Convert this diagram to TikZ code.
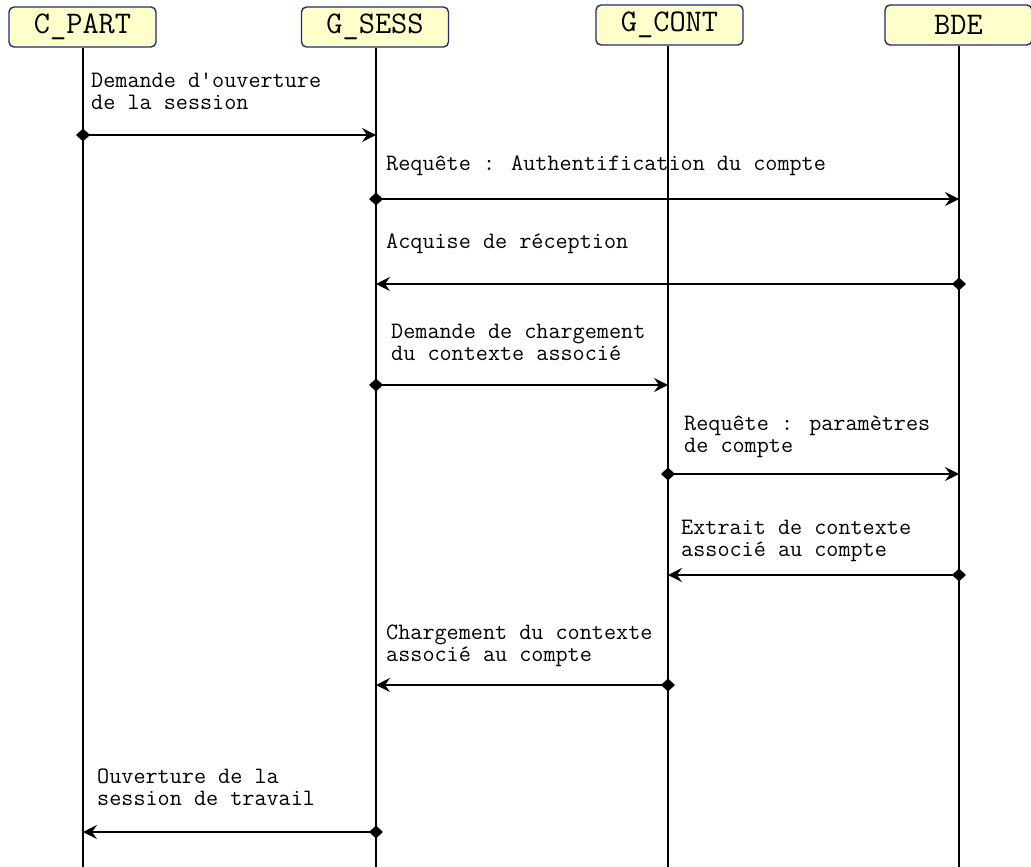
\documentclass[tikz,border=0pt]{standalone}
\usetikzlibrary{arrows.meta}
\definecolor{hdrfill}{HTML}{FFFFCC}
\definecolor{hdrdraw}{HTML}{1F2A80}
\begin{document}
\begin{tikzpicture}[x=1pt,y=-1pt,
  actor/.style={draw=hdrdraw,fill=hdrfill,line width=1.4pt,rounded corners=5pt,
    minimum width=147pt,minimum height=40pt,inner sep=0pt,
    font=\ttfamily\fontsize{31.5}{33}\selectfont},
  lifeline/.style={line width=1.7pt},
  msg/.style={line width=1.4pt,{Diamond[length=14pt,width=13pt]}-{Stealth[length=14pt,width=14pt,inset=5pt]},shorten <=-7pt},
  lbl/.style={anchor=base west,inner sep=0pt,align=left,
    font=\ttfamily\fontsize{23.5}{22}\selectfont}]
\useasboundingbox (0,0) rectangle (1031,867);

% participants
\node[actor] (cpart) at (82.5,27) {C\_PART};
\node[actor] (gsess) at (375,27) {G\_SESS};
\node[actor] (gcont) at (669.5,25) {G\_CONT};
\node[actor] (bde)   at (958.5,25) {BDE};

% lifeline abscissae and bottom edge
\coordinate (bot) at (0,867);
\coordinate (xc) at (83,0);
\coordinate (xs) at (376,0);
\coordinate (xg) at (668,0);
\coordinate (xb) at (959,0);
\draw[lifeline] (xc |- cpart.south) -- (xc |- bot);
\draw[lifeline] (xs |- gsess.south) -- (xs |- bot);
\draw[lifeline] (xg |- gcont.south) -- (xg |- bot);
\draw[lifeline] (xb |- bde.south) -- (xb |- bot);

% message rows
\coordinate (r1) at (0,135);
\coordinate (r2) at (0,199);
\coordinate (r3) at (0,284);
\coordinate (r4) at (0,385);
\coordinate (r5) at (0,474);
\coordinate (r6) at (0,575);
\coordinate (r7) at (0,685);
\coordinate (r8) at (0,832);

\draw[msg] (xc |- r1) -- (xs |- r1);
\draw[msg] (xs |- r2) -- (xb |- r2);
\draw[msg] (xb |- r3) -- (xs |- r3);
\draw[msg] (xs |- r4) -- (xg |- r4);
\draw[msg] (xg |- r5) -- (xb |- r5);
\draw[msg] (xb |- r6) -- (xg |- r6);
\draw[msg] (xg |- r7) -- (xs |- r7);
\draw[msg] (xs |- r8) -- (xc |- r8);

% message labels (base = baseline of the last line)
\node[lbl] (t1) at (91,110) {Demande d'ouverture\\de la session};
\node[lbl] (t2) at (386,170) {Requête : Authentification du compte};
\node[lbl] (t3) at (386,248) {Acquise de réception};
\node[lbl] (t4) at (391,360) {Demande de chargement\\du contexte associé};
\node[lbl] (t5) at (684,452) {Requête : paramètres\\de compte};
\node[lbl] (t6) at (681,556) {Extrait de contexte\\associé au compte};
\node[lbl] (t7) at (386,661) {Chargement du contexte\\associé au compte};
\node[lbl] (t8) at (97,805) {Ouverture de la\\session de travail};
\end{tikzpicture}
\end{document}
